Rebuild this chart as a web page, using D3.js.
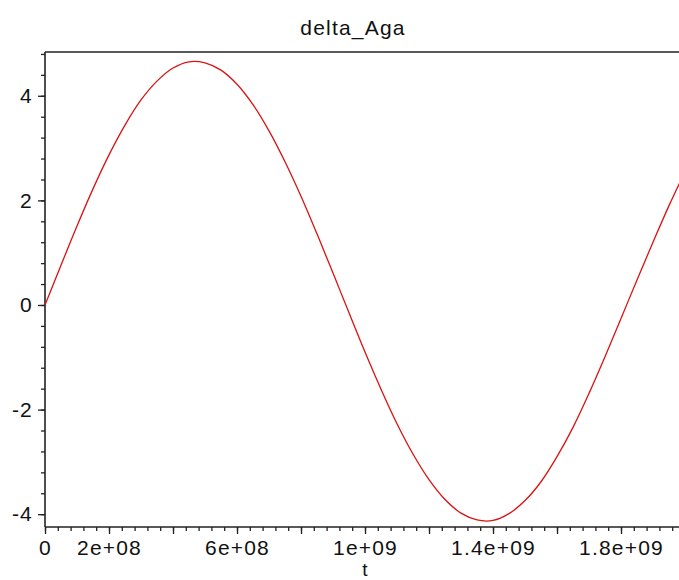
<!DOCTYPE html>
<html>
<head>
<meta charset="utf-8">
<script src="https://cdn.jsdelivr.net/npm/d3@7"></script>
<style>
  html, body { margin: 0; padding: 0; background: #fff; }
  svg { display: block; }
  text { font-family: "Liberation Sans", Arial, sans-serif; fill: #111; }
</style>
</head>
<body>
<script>
// Time samples (t) and the corresponding delta_Aga values
const tValues = [
  0, 0.5e8, 1e8, 1.5e8, 2e8, 2.5e8, 3e8, 3.5e8, 4e8, 4.5e8,
  5e8, 5.5e8, 6e8, 6.5e8, 7e8, 7.5e8, 8e8, 8.5e8, 9e8, 9.5e8,
  1.0e9, 1.05e9, 1.1e9, 1.15e9, 1.2e9, 1.25e9, 1.3e9, 1.35e9, 1.4e9, 1.45e9,
  1.5e9, 1.55e9, 1.6e9, 1.65e9, 1.7e9, 1.75e9, 1.8e9, 1.85e9, 1.9e9, 1.95e9, 2.0e9
];
const deltaAga = [
  0.00, 0.76, 1.51, 2.22, 2.87, 3.44, 3.92, 4.28, 4.53, 4.65,
  4.63, 4.49, 4.22, 3.83, 3.33, 2.74, 2.08, 1.36, 0.61, -0.15,
  -0.90, -1.61, -2.27, -2.85, -3.34, -3.72, -3.98, -4.11, -4.12, -3.99,
  -3.74, -3.38, -2.90, -2.34, -1.69, -0.99, -0.26, 0.48, 1.20, 1.90, 2.55
];

// Axis ticks
const xMajorTicks = [0, 2e8, 4e8, 6e8, 8e8, 1e9, 1.2e9, 1.4e9, 1.6e9, 1.8e9, 2e9];
const xLabelTicks = [0, 2e8, 6e8, 1e9, 1.4e9, 1.8e9];
const xLabelText  = ["0", "2e+08", "6e+08", "1e+09", "1.4e+09", "1.8e+09"];
const yMajorTicks = [-4, -2, 0, 2, 4];
const yLabelText  = ["-4", "-2", "0", "2", "4"];
const chartTitle = "delta_Aga";
const xAxisTitle = "t";

const W = 679, H = 580;
const svg = d3.select("body").append("svg").attr("width", W).attr("height", H);

const x = d3.scaleLinear().domain([0, 2.0e9]).range([45, 685]);
const y = d3.scaleLinear().domain([-4.245, 4.837]).range([527, 52]);

const xMinor = d3.range(0, 2.0e9 + 1, 4e7);
const yMinor = d3.range(-4.0, 4.81, 0.4);

const axisColor = "#222";
const fontSize = 21;
const spacing = "1.2px";

// frame: left, top and bottom edges
svg.append("line").attr("x1", x(0)).attr("x2", x(0)).attr("y1", y.range()[1]).attr("y2", y.range()[0])
  .attr("stroke", axisColor).attr("stroke-width", 1.6);
svg.append("line").attr("x1", x(0)).attr("x2", W).attr("y1", y.range()[1]).attr("y2", y.range()[1])
  .attr("stroke", axisColor).attr("stroke-width", 1.6);
svg.append("line").attr("x1", x(0)).attr("x2", W).attr("y1", y.range()[0]).attr("y2", y.range()[0])
  .attr("stroke", axisColor).attr("stroke-width", 1.6);

// x axis: minor and major ticks hanging below the frame
const gxMinor = svg.append("g").attr("transform", `translate(0,${y.range()[0]})`)
  .call(d3.axisBottom(x).tickValues(xMinor).tickSize(4).tickFormat(""));
const gxMajor = svg.append("g").attr("transform", `translate(0,${y.range()[0]})`)
  .call(d3.axisBottom(x).tickValues(xMajorTicks).tickSize(7).tickFormat(""));
const gxLab = svg.append("g").attr("transform", `translate(0,${y.range()[0]})`)
  .call(d3.axisBottom(x).tickValues(xLabelTicks).tickSize(0).tickPadding(13)
    .tickFormat((d, i) => xLabelText[i]));

// y axis
const gyMinor = svg.append("g").attr("transform", `translate(${x(0)},0)`)
  .call(d3.axisLeft(y).tickValues(yMinor).tickSize(4).tickFormat(""));
const gyMajor = svg.append("g").attr("transform", `translate(${x(0)},0)`)
  .call(d3.axisLeft(y).tickValues(yMajorTicks).tickSize(7).tickPadding(5)
    .tickFormat((d, i) => yLabelText[i]));

[gxMinor, gxMajor, gxLab, gyMinor, gyMajor].forEach(g => {
  g.select(".domain").remove();
  g.selectAll(".tick line").attr("stroke", axisColor).attr("stroke-width", 1.3);
  g.selectAll(".tick text").attr("font-size", fontSize)
    .attr("font-family", "'Liberation Sans', Arial, sans-serif").attr("fill", "#111")
    .attr("letter-spacing", spacing);
});

// curve
const line = d3.line()
  .x((d, i) => x(tValues[i]))
  .y(d => y(d))
  .curve(d3.curveCatmullRom);
svg.append("path").datum(deltaAga)
  .attr("d", line)
  .attr("fill", "none")
  .attr("stroke", "#dd1111")
  .attr("stroke-width", 1.3);

// titles
svg.append("text").attr("x", 353).attr("y", 35).attr("text-anchor", "middle")
  .attr("font-size", fontSize).attr("letter-spacing", spacing).text(chartTitle);
svg.append("text").attr("x", 365).attr("y", 576).attr("text-anchor", "middle")
  .attr("font-size", 19).text(xAxisTitle);
</script>
</body>
</html>
